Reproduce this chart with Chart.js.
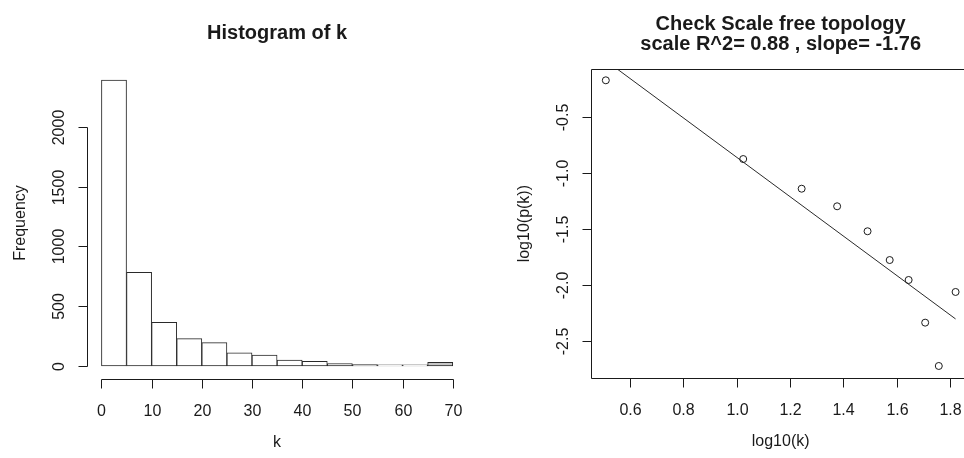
<!DOCTYPE html>
<html>
<head>
<meta charset="utf-8">
<script src="https://cdn.jsdelivr.net/npm/chart.js@4/dist/chart.umd.min.js"></script>
<style>
  html, body { margin: 0; padding: 0; background: #fff; }
  body { width: 964px; height: 458px; position: relative; overflow: hidden; }
  canvas { position: absolute; top: 0; }
  #histChart { left: 0; }
  #scaleChart { left: 482px; }
</style>
</head>
<body>
<canvas id="histChart" width="482" height="458"></canvas>
<canvas id="scaleChart" width="493" height="458"></canvas>
<script>
// histogram of k
const binEdges = [0, 5, 10, 15, 20, 25, 30, 35, 40, 45, 50, 55, 60, 65, 70];
const counts = [2390, 783, 365, 228, 195, 109, 92, 50, 39, 19, 12, 10, 10, 30];
const histXTicks = [0, 10, 20, 30, 40, 50, 60, 70];
const histYTicks = [0, 500, 1000, 1500, 2000];

// scale free topology check
const logK = [0.510, 1.025, 1.244, 1.377, 1.491, 1.574, 1.645, 1.707, 1.758, 1.821];
const logPk = [-0.175, -0.878, -1.143, -1.300, -1.523, -1.780, -1.958, -2.339, -2.726, -2.065];
const fitX = [0.510, 1.821];
const fitY = [0.001, -2.306];
const scaleXTicks = [0.6, 0.8, 1.0, 1.2, 1.4, 1.6, 1.8];
const scaleXLabels = ['0.6', '0.8', '1.0', '1.2', '1.4', '1.6', '1.8'];
const scaleYTicks = [-2.5, -2.0, -1.5, -1.0, -0.5];
const scaleYLabels = ['-2.5', '-2.0', '-1.5', '-1.0', '-0.5'];

const FONT = '"Liberation Sans", Arial, sans-serif';
const INK = '#1a1a1a';

const strokeSegs = (ctx, segs) => {
    ctx.beginPath();
    segs.forEach(([x1, y1, x2, y2]) => { ctx.moveTo(x1, y1); ctx.lineTo(x2, y2); });
    ctx.stroke();
};

// R style axes: line only over the tick range, ticks pointing out, rotated y labels
const rAxes = {
    id: 'rAxes',
    afterDraw(chart, args, opts) {
        const { ctx, chartArea: a } = chart;
        const xs = chart.scales.x, ys = chart.scales.y;
        ctx.save();
        ctx.strokeStyle = INK;
        ctx.fillStyle = INK;
        ctx.lineWidth = 1;

        const ay = Math.round(a.bottom + (opts.xOffset || 0)) + 0.5;
        const ax = Math.round(a.left) + 0.5;
        const xp = opts.xTicks.map(v => Math.round(xs.getPixelForValue(v)) + 0.5);
        const yp = opts.yTicks.map(v => Math.round(ys.getPixelForValue(v)) + 0.5);

        if (opts.box) {
            const t = Math.round(a.top) + 0.5, r = Math.round(a.right) + 0.5;
            strokeSegs(ctx, [[ax, t, r, t], [r, t, r, ay], [r, ay, ax, ay], [ax, ay, ax, t]]);
        }

        // axis lines and tick marks
        strokeSegs(ctx, [[xp[0], ay, xp[xp.length - 1], ay], [ax, yp[0], ax, yp[yp.length - 1]]]);
        strokeSegs(ctx, xp.map(p => [p, ay, p, ay + 9]));
        strokeSegs(ctx, yp.map(p => [ax, p, ax - 9, p]));

        ctx.font = `16px ${FONT}`;
        ctx.textAlign = 'center';
        ctx.textBaseline = 'alphabetic';
        xp.forEach((p, i) => ctx.fillText(opts.xLabels[i], p, ay + 36));
        ctx.fillText(opts.xTitle, (a.left + a.right) / 2, ay + 67);

        yp.forEach((p, i) => {
            ctx.save();
            ctx.translate(ax - 24, p);
            ctx.rotate(-Math.PI / 2);
            ctx.fillText(opts.yLabels[i], 0, 0);
            ctx.restore();
        });
        ctx.save();
        ctx.translate(ax - 63, (a.top + a.bottom) / 2);
        ctx.rotate(-Math.PI / 2);
        ctx.fillText(opts.yTitle, 0, 0);
        ctx.restore();

        // main title
        ctx.font = `bold 20px ${FONT}`;
        const cx = (a.left + a.right) / 2;
        opts.title.forEach((line, i) => ctx.fillText(line, cx, opts.titleY + i * 20));
        ctx.restore();
    }
};

const baseOpts = {
    responsive: false,
    animation: false,
    devicePixelRatio: 1,
    events: []
};

// 1. Histogram
const histSpan = counts[0] * 0.04;
new Chart(document.getElementById('histChart'), {
    type: 'bar',
    data: {
        datasets: [{
            data: counts.map((c, i) => ({ x: (binEdges[i] + binEdges[i + 1]) / 2, y: c })),
            backgroundColor: ctx => ctx.dataIndex === counts.length - 1 ? '#c6c6c6' : '#ffffff',
            borderColor: '#2a2a2a',
            borderWidth: 1,
            borderSkipped: false,
            barPercentage: 1,
            categoryPercentage: 1
        }]
    },
    options: {
        ...baseOpts,
        layout: { padding: { left: 87.4, right: 15.2, top: 68.6, bottom: 80.6 } },
        scales: {
            x: { type: 'linear', display: false, offset: false, min: -2.8, max: 72.8 },
            y: { display: false, min: -histSpan, max: counts[0] + histSpan }
        },
        plugins: {
            legend: { display: false },
            tooltip: { enabled: false },
            rAxes: {
                xTicks: histXTicks, xLabels: histXTicks.map(String), xTitle: 'k', xOffset: 1.5,
                yTicks: histYTicks, yLabels: histYTicks.map(String), yTitle: 'Frequency',
                title: ['Histogram of k'], titleY: 39
            }
        }
    },
    plugins: [rAxes]
});

// 2. Scale free topology
new Chart(document.getElementById('scaleChart'), {
    type: 'scatter',
    data: {
        datasets: [{
            data: logK.map((x, i) => ({ x, y: logPk[i] })),
            pointRadius: 3.5,
            pointBorderWidth: 1,
            pointBorderColor: INK,
            pointBackgroundColor: 'rgba(0,0,0,0)',
            showLine: false
        }, {
            data: fitX.map((x, i) => ({ x, y: fitY[i] })),
            showLine: true,
            borderColor: '#2a2a2a',
            borderWidth: 1,
            pointRadius: 0
        }]
    },
    options: {
        ...baseOpts,
        layout: { padding: { left: 109.3, right: 3.3, top: 69, bottom: 79.7 } },
        scales: {
            x: { type: 'linear', display: false, min: 0.4556, max: 1.875 },
            y: { type: 'linear', display: false, min: -2.836, max: -0.074 }
        },
        plugins: {
            legend: { display: false },
            tooltip: { enabled: false },
            rAxes: {
                box: true,
                xTicks: scaleXTicks, xLabels: scaleXLabels, xTitle: 'log10(k)',
                yTicks: scaleYTicks, yLabels: scaleYLabels, yTitle: 'log10(p(k))',
                title: ['Check Scale free topology', 'scale R^2= 0.88 , slope= -1.76'], titleY: 30
            }
        }
    },
    plugins: [rAxes]
});
</script>
</body>
</html>
